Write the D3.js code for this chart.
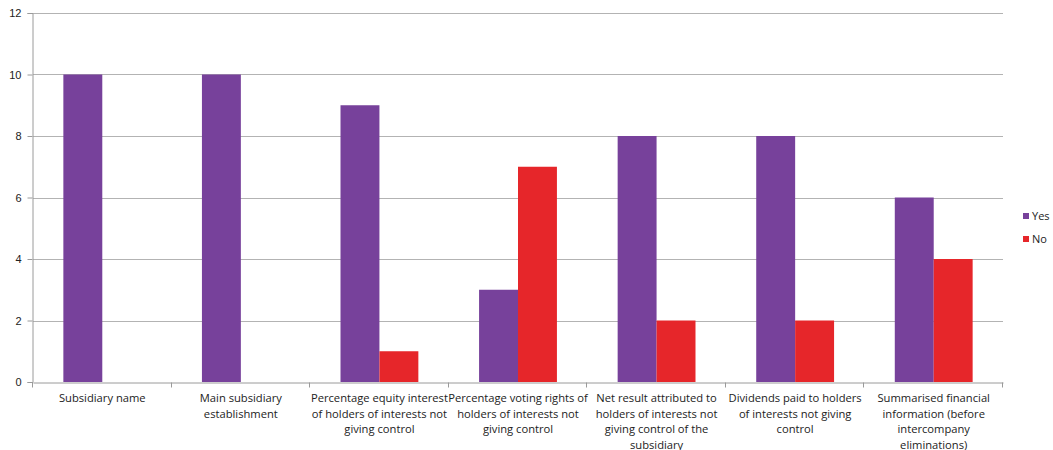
<!DOCTYPE html>
<html>
<head>
<meta charset="utf-8">
<script src="https://cdn.jsdelivr.net/npm/d3@7"></script>
<style>
  body { margin: 0; background: #fff; }
  svg { display: block; font-family: "Open Sans", "DejaVu Sans", sans-serif; }
</style>
</head>
<body>
<svg id="chart" width="1053" height="450"></svg>
<script>
// Disclosure items for subsidiaries with non-controlling interests
const categories = [
  "Subsidiary name",
  "Main subsidiary establishment",
  "Percentage equity interest of holders of interests not giving control",
  "Percentage voting rights of holders of interests not giving control",
  "Net result attributed to holders of interests not giving control of the subsidiary",
  "Dividends paid to holders of interests not giving control",
  "Summarised financial information (before intercompany eliminations)"
];
const yesValues = [10, 10, 9, 3, 8, 8, 6];
const noValues = [0, 0, 1, 7, 2, 2, 4];
const seriesNames = ["Yes", "No"];
const seriesColors = ["#77419b", "#e6262a"];
const yTicks = [0, 2, 4, 6, 8, 10, 12];

const svg = d3.select("#chart");
const plotLeft = 33, plotRight = 1003, plotTop = 13, plotBottom = 382;
const labelSize = "11.2px";

const x0 = d3.scaleBand().domain(categories).range([plotLeft, plotRight]).paddingInner(0).paddingOuter(0);
const x1 = d3.scaleBand().domain(seriesNames).range([0, x0.bandwidth()]).paddingInner(0).paddingOuter(0.78);
const y = d3.scaleLinear().domain([0, 12]).range([plotBottom, plotTop]);

// horizontal gridlines
svg.append("g")
  .selectAll("line")
  .data(yTicks.filter(d => d > 0))
  .join("line")
  .attr("x1", plotLeft).attr("x2", plotRight)
  .attr("y1", d => Math.round(y(d)) + 0.5).attr("y2", d => Math.round(y(d)) + 0.5)
  .attr("stroke", "#b3b3b3").attr("stroke-width", 1);

// y axis
const yAxis = svg.append("g")
  .attr("transform", `translate(${plotLeft - 0.5},0)`)
  .call(d3.axisLeft(y).tickValues(yTicks).tickSize(5).tickPadding(6));
yAxis.select(".domain").attr("stroke", "#9a9a9a");
yAxis.selectAll(".tick line").attr("stroke", "#9a9a9a");
yAxis.selectAll(".tick text").attr("fill", "#222").style("font-size", "11px");

// bars
const data = categories.map((c, i) => ({ cat: c, vals: [yesValues[i], noValues[i]] }));
const groups = svg.append("g").selectAll("g")
  .data(data)
  .join("g")
  .attr("transform", d => `translate(${x0(d.cat)},0)`);
groups.selectAll("rect")
  .data(d => d.vals.map((v, k) => ({ name: seriesNames[k], v, k })))
  .join("rect")
  .attr("x", d => x1(d.name))
  .attr("width", x1.bandwidth())
  .attr("y", d => y(d.v))
  .attr("height", d => y(0) - y(d.v))
  .attr("fill", d => seriesColors[d.k]);

// x axis
const xAxis = svg.append("g")
  .attr("transform", `translate(0,${Math.round(plotBottom) + 0.5})`)
  .call(d3.axisBottom(x0).tickSize(0).tickFormat(""));
xAxis.select(".domain").attr("stroke", "#9a9a9a");
xAxis.selectAll(".tick").remove();
// category boundary ticks
const bounds = categories.map(c => x0(c)).concat([plotRight]);
xAxis.selectAll("line.bound")
  .data(bounds)
  .join("line")
  .attr("class", "bound")
  .attr("x1", d => Math.round(d) - 0.5).attr("x2", d => Math.round(d) - 0.5)
  .attr("y1", 0).attr("y2", 5)
  .attr("stroke", "#9a9a9a");

// wrapped category labels
function wrapWords(text, maxWidth, measure) {
  const words = text.split(" ");
  const lines = [];
  let cur = "";
  for (const w of words) {
    const trial = cur ? cur + " " + w : w;
    if (cur && measure(trial) > maxWidth) { lines.push(cur); cur = w; }
    else cur = trial;
  }
  if (cur) lines.push(cur);
  return lines;
}
const measurer = svg.append("text").style("font-size", labelSize).attr("visibility", "hidden");
const measure = s => { measurer.text(s); return measurer.node().getComputedTextLength(); };

const labels = svg.append("g").selectAll("text")
  .data(categories)
  .join("text")
  .attr("x", d => x0(d) + x0.bandwidth() / 2)
  .attr("y", 402)
  .attr("text-anchor", "middle")
  .attr("fill", "#222")
  .style("font-size", labelSize);
labels.each(function(d) {
  const lines = wrapWords(d, x0.bandwidth() + 4, measure);
  d3.select(this).selectAll("tspan")
    .data(lines)
    .join("tspan")
    .attr("x", x0(d) + x0.bandwidth() / 2)
    .attr("dy", (l, i) => i === 0 ? 0 : 15.5)
    .text(l => l);
});
measurer.remove();

// legend
const legend = svg.append("g").selectAll("g")
  .data(seriesNames)
  .join("g")
  .attr("transform", (d, i) => `translate(1023,${216 + i * 23})`);
legend.append("rect")
  .attr("x", 0).attr("y", -3).attr("width", 6).attr("height", 6)
  .attr("fill", (d, i) => seriesColors[i]);
legend.append("text")
  .attr("x", 9).attr("y", 4)
  .attr("fill", "#222")
  .style("font-size", "11px")
  .text(d => d);
</script>
</body>
</html>
